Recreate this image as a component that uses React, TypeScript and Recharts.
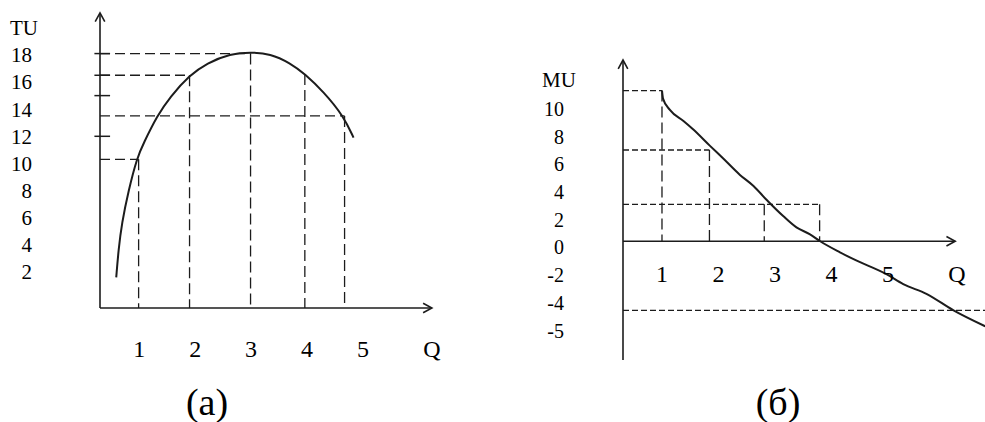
import { LineChart, Line, XAxis, YAxis, ReferenceLine } from 'recharts';

const INK = '#1c1c1c';
const FONT = '"Liberation Serif", "Times New Roman", serif';

// (a) total utility curve
const tuQ = [0.59, 0.63, 0.69, 0.81, 0.96, 1.08, 1.32, 1.55, 1.9, 2.21, 2.63, 2.99, 3.34, 3.7, 3.96, 4.29, 4.65, 4.83];
const tuValues = [1.6, 3.6, 5.6, 8.0, 10.4, 11.5, 13.5, 14.9, 16.5, 17.4, 18.1, 18.2, 18.1, 17.4, 16.6, 15.3, 13.5, 11.9];
const tuTicks = [2, 4, 6, 8, 10, 12, 14, 16, 18];
const qTicks = [1, 2, 3, 4, 5];
// dashed guides: drop lines from the curve, some also run back to the TU axis
const tuGuideQ = [0.99, 1.9, 2.99, 3.96, 4.67];
const tuGuideLevels = [10.3, 16.5, 18.1, 16.6, 13.5];
const tuGuideToAxis = [true, true, true, false, true];
const tuAxisMarks = [18.1, 16.5, 15, 12];

// (б) marginal utility curve
const muQ = [1.0, 1.02, 1.14, 1.38, 1.55, 1.85, 2.08, 2.38, 2.62, 2.85, 3.15, 3.38, 3.62, 3.8, 4.15, 4.39, 4.98, 5.27, 5.68, 6.16, 6.72];
const muValues = [10.9, 10.3, 9.5, 8.7, 8.1, 6.9, 6.0, 4.8, 4.0, 3.0, 1.8, 1.0, 0.5, 0.0, -0.8, -1.3, -2.4, -3.1, -3.8, -5.0, -6.15];
const muTicks = [10, 8, 6, 4, 2, 0, -2, -4, -5];
const muGuideQ = [1.0, 1.84, 2.81, 3.79];
const muGuideLevels = [10.9, 6.6, 2.67, 2.67];
const muGuideToAxis = [true, true, false, true];
const muFloor = -5;

// axis extents (data units)
const A_Q: [number, number] = [0.3, 6.375];
const A_TU: [number, number] = [-0.66, 21.46];
const A_Q_ARROW = 6.23;
const A_TU_ARROW = 21.1;

const B_Q: [number, number] = [0.31, 6.717];
const B_MU: [number, number] = [-8.59, 13.11];
const B_Q_ARROW = 6.19;

const tuData = tuQ.map((q, i) => ({ q, tu: tuValues[i] }));
const muData = muQ.map((q, i) => ({ q, mu: muValues[i] }));

function Arrow(props: any) {
  const { x1, y1, x2, y2 } = props;
  const a = Math.atan2(y2 - y1, x2 - x1);
  const len = 10;
  const spread = 0.5;
  const ax = x2 - len * Math.cos(a - spread);
  const ay = y2 - len * Math.sin(a - spread);
  const bx = x2 - len * Math.cos(a + spread);
  const by = y2 - len * Math.sin(a + spread);
  return (
    <g>
      <line x1={x1} y1={y1} x2={x2} y2={y2} stroke={INK} strokeWidth={1.6} />
      <path d={`M${ax},${ay} L${x2},${y2} L${bx},${by}`} fill="none" stroke={INK} strokeWidth={1.6} />
    </g>
  );
}

const renderTick = (fontSize: number, dy: string, shift = 0, nudge: (v: number) => number = () => 0) =>
  (props: any) => (
    <text
      x={props.x}
      y={props.y + shift + nudge(props.payload.value)}
      dy={dy}
      textAnchor={props.textAnchor}
      fontSize={fontSize}
      fontFamily={FONT}
      fill="#000"
    >
      {props.payload.value}
    </text>
  );

const dashStyle = { stroke: INK, strokeWidth: 1.3 };

export default function App() {
  return (
    <div style={{ position: 'absolute', left: 0, top: 0, width: 985, height: 422, background: '#fff', overflow: 'hidden' }}>
      <div style={{ position: 'absolute', left: 0, top: 0 }}>
        <LineChart width={460} height={370} data={tuData} margin={{ top: 8, right: 20, bottom: 0, left: 0 }}>
          <XAxis
            dataKey="q"
            type="number"
            domain={A_Q}
            allowDataOverflow
            ticks={qTicks}
            interval={0}
            axisLine={false}
            tickLine={false}
            tickSize={0}
            tickMargin={32}
            height={62}
            tick={renderTick(24, '0.71em')}
          />
          <YAxis
            type="number"
            domain={A_TU}
            allowDataOverflow
            ticks={tuTicks}
            interval={0}
            axisLine={false}
            tickLine={false}
            tickSize={0}
            tickMargin={68}
            width={100}
            tick={renderTick(21, '0.35em')}
          />
          {tuGuideQ.map((q, i) => (
            <ReferenceLine
              key={`tv-${i}`}
              segment={[{ x: q, y: tuGuideLevels[i] }, { x: q, y: A_TU[0] }]}
              ifOverflow="visible"
              strokeDasharray="11 5"
              {...dashStyle}
            />
          ))}
          {tuGuideQ.map((q, i) =>
            tuGuideToAxis[i] ? (
              <ReferenceLine
                key={`th-${i}`}
                segment={[{ x: A_Q[0], y: tuGuideLevels[i] }, { x: q, y: tuGuideLevels[i] }]}
                ifOverflow="visible"
                strokeDasharray="10 5"
                {...dashStyle}
              />
            ) : null
          )}
          {tuAxisMarks.map((v) => (
            <ReferenceLine
              key={`tm-${v}`}
              segment={[{ x: 0.2, y: v }, { x: 0.48, y: v }]}
              ifOverflow="visible"
              stroke={INK}
              strokeWidth={1.5}
            />
          ))}
          <ReferenceLine segment={[{ x: A_Q[0], y: A_TU[0] }, { x: A_Q_ARROW, y: A_TU[0] }]} ifOverflow="visible" shape={Arrow} />
          <ReferenceLine segment={[{ x: A_Q[0], y: A_TU[0] }, { x: A_Q[0], y: A_TU_ARROW }]} ifOverflow="visible" shape={Arrow} />
          <Line dataKey="tu" type="basis" stroke={INK} strokeWidth={2} dot={false} isAnimationActive={false} />
        </LineChart>
      </div>

      <div style={{ position: 'absolute', left: 500, top: 0 }}>
        <LineChart width={485} height={360} data={muData} margin={{ top: 60, right: 0, bottom: 0, left: 0 }}>
          <XAxis
            dataKey="q"
            type="number"
            domain={B_Q}
            allowDataOverflow
            ticks={qTicks}
            interval={0}
            axisLine={false}
            tickLine={false}
            tickSize={0}
            tickMargin={78}
            height={7}
            mirror
            tick={renderTick(24, '0')}
          />
          <YAxis
            type="number"
            domain={B_MU}
            allowDataOverflow
            ticks={muTicks}
            interval={0}
            axisLine={false}
            tickLine={false}
            tickSize={0}
            tickMargin={59}
            width={123}
            tick={renderTick(20, '0.35em', 6, (v) => (v === muFloor ? 15 : 0))}
          />
          {muGuideQ.map((q, i) => (
            <ReferenceLine
              key={`mv-${i}`}
              segment={[{ x: q, y: muGuideLevels[i] }, { x: q, y: 0 }]}
              ifOverflow="visible"
              strokeDasharray="11 5"
              {...dashStyle}
            />
          ))}
          {muGuideQ.map((q, i) =>
            muGuideToAxis[i] ? (
              <ReferenceLine
                key={`mh-${i}`}
                segment={[{ x: B_Q[0], y: muGuideLevels[i] }, { x: q, y: muGuideLevels[i] }]}
                ifOverflow="visible"
                strokeDasharray="6 3"
                {...dashStyle}
              />
            ) : null
          )}
          <ReferenceLine
            segment={[{ x: B_Q[0], y: muFloor }, { x: B_Q[1], y: muFloor }]}
            ifOverflow="visible"
            strokeDasharray="6 3"
            {...dashStyle}
          />
          <ReferenceLine segment={[{ x: B_Q[0], y: 0 }, { x: B_Q_ARROW, y: 0 }]} ifOverflow="visible" shape={Arrow} />
          <ReferenceLine segment={[{ x: B_Q[0], y: B_MU[0] }, { x: B_Q[0], y: B_MU[1] }]} ifOverflow="visible" shape={Arrow} />
          <Line dataKey="mu" type="monotone" stroke={INK} strokeWidth={2} dot={false} isAnimationActive={false} />
        </LineChart>
      </div>

      <svg width={985} height={422} style={{ position: 'absolute', left: 0, top: 0, pointerEvents: 'none' }}>
        <g fontFamily={FONT} fill="#000" textAnchor="middle">
          <text x={24} y={35} fontSize={21}>TU</text>
          <text x={432} y={357} fontSize={24}>Q</text>
          <text x={207} y={415} fontSize={38}>(a)</text>
          <text x={559} y={87} fontSize={21}>MU</text>
          <text x={957} y={282} fontSize={24}>Q</text>
          <text x={778} y={415} fontSize={38}>(б)</text>
        </g>
      </svg>
    </div>
  );
}
